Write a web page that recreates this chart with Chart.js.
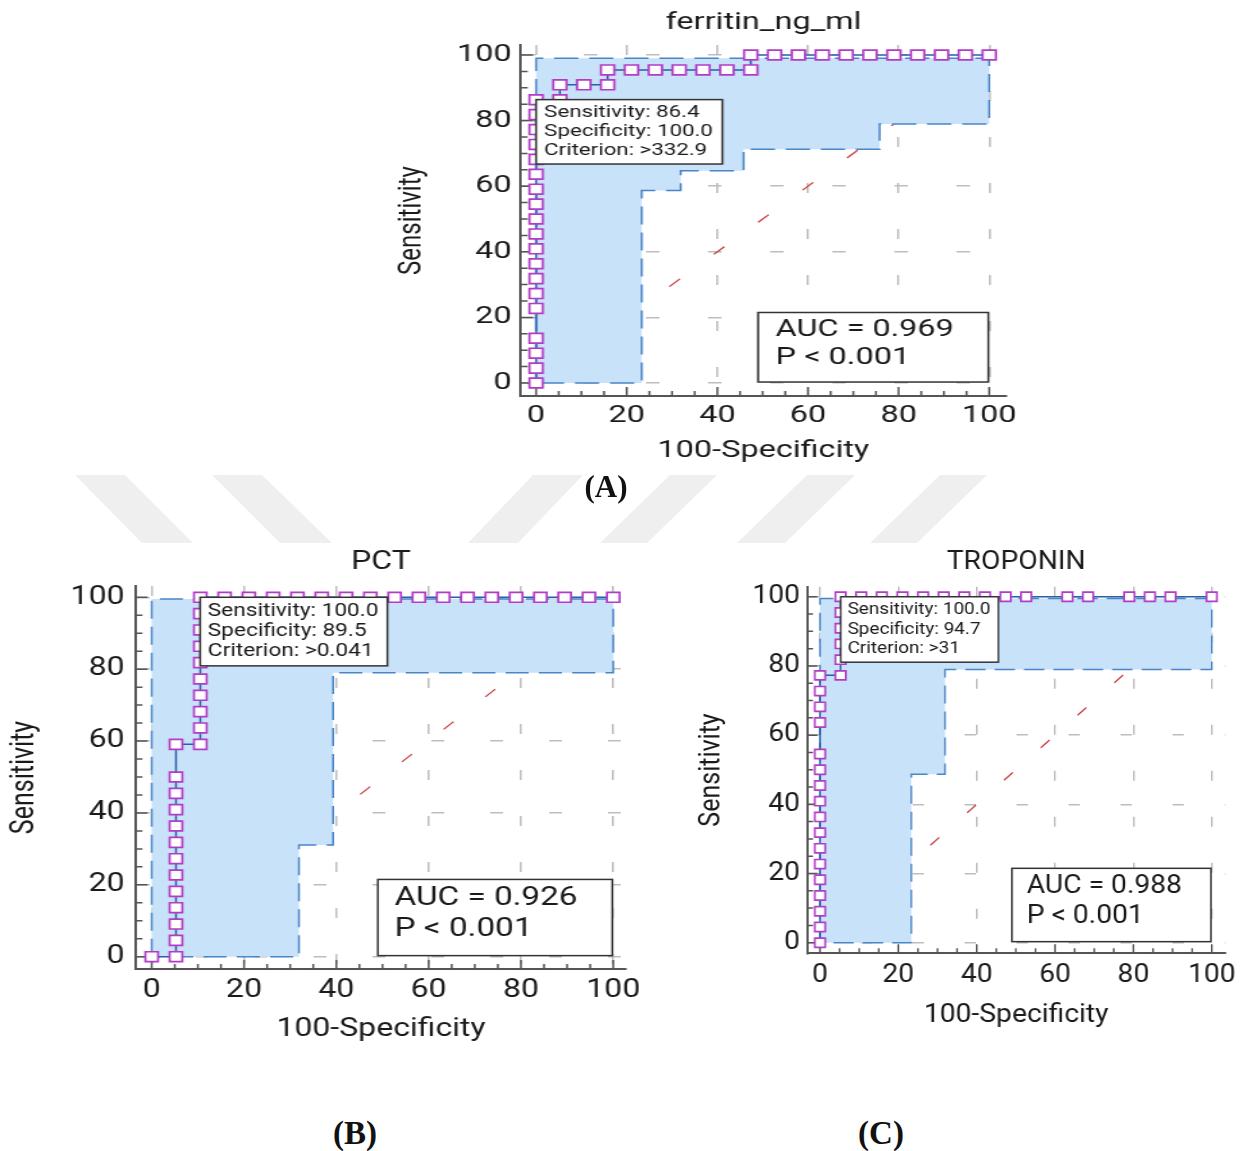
<!DOCTYPE html>
<html>
<head>
<meta charset="utf-8">
<script src="https://cdn.jsdelivr.net/npm/chart.js@4.4.0/dist/chart.umd.min.js"></script>
<style>
  body { margin: 0; background: #fff; width: 1249px; height: 1151px; position: relative; overflow: hidden; }
  .panel { position: absolute; transform-origin: 0 0; }
  .tag { position: absolute; font-family: 'Liberation Serif', 'Times New Roman', serif; font-weight: bold; color: #111; transform: translate(-50%, -50%); }
  svg.wm { position: absolute; left: 0; top: 0; }
</style>
</head>
<body>
<svg class="wm" width="1249" height="1151">
  <g fill="#efefef">
    <polygon points="75,475 125,475 193,543 142,543"/>
    <polygon points="212,475 262,475 332,543 280,543"/>
    <polygon points="533,475 583,475 518,543 468,543"/>
    <polygon points="670,475 717,475 647,543 600,543"/>
    <polygon points="807,475 855,475 785,543 737,543"/>
    <polygon points="940,475 987,475 917,543 870,543"/>
  </g>
</svg>
<div class="panel" style="left:380px;top:0px;transform:scaleX(1.35)"><canvas id="chartA" width="482" height="470"></canvas></div>
<div class="panel" style="left:0px;top:530px;transform:scaleX(1.28)"><canvas id="chartB" width="508" height="520"></canvas></div>
<div class="panel" style="left:690px;top:530px;transform:scaleX(1.13)"><canvas id="chartC" width="494" height="520"></canvas></div>
<div class="tag" style="left:606px;top:487px;font-size:31px">(A)</div>
<div class="tag" style="left:355px;top:1133px;font-size:33px">(B)</div>
<div class="tag" style="left:881px;top:1133px;font-size:33px">(C)</div>
<script>
// --- data (x = 100-Specificity, y = Sensitivity) ---
const tickValues = [0, 20, 40, 60, 80, 100]
const chanceFpr = [0, 100]
const chanceSens = [0, 100]

const panelTitles = ['ferritin_ng_ml', 'PCT', 'TROPONIN']
const cutoffSens = [86.4, 100.0, 100.0]
const cutoffSpec = [100.0, 89.5, 94.7]
const cutoffCriterion = ['>332.9', '>0.041', '>31']
const aucValues = [0.969, 0.926, 0.988]
const pValues = ['< 0.001', '< 0.001', '< 0.001']

// ferritin
const ferritinFpr = [0, 0, 0, 0, 0, 0, 0, 0, 0, 0, 0, 0, 0, 0, 0, 0, 0, 0, 0,
  5.26, 5.26, 10.53, 15.79, 15.79, 21.05, 26.32, 31.58, 36.84, 42.11, 47.37,
  47.37, 52.63, 57.89, 63.16, 68.42, 73.68, 78.95, 84.21, 89.47, 94.74, 100]
const ferritinSens = [0, 4.55, 9.09, 13.64, 22.73, 27.27, 31.82, 36.36, 40.91, 45.45,
  50, 54.55, 59.09, 63.64, 68.18, 72.73, 77.27, 81.82, 86.36,
  86.36, 90.91, 90.91, 90.91, 95.45, 95.45, 95.45, 95.45, 95.45, 95.45, 95.45,
  100, 100, 100, 100, 100, 100, 100, 100, 100, 100, 100]
const ferritinUpperFpr = [0, 0, 100, 100]
const ferritinUpperSens = [0, 99, 99, 79]
const ferritinLowerFpr = [100, 75.8, 75.8, 45.8, 45.8, 31.9, 31.9, 23.3, 23.3, 0]
const ferritinLowerSens = [79, 79, 71.3, 71.3, 64.7, 64.7, 58.7, 58.7, 0, 0]

// PCT
const pctFpr = [0, 5.26, 5.26, 5.26, 5.26, 5.26, 5.26, 5.26, 5.26, 5.26, 5.26, 5.26, 5.26,
  5.26, 10.53, 10.53, 10.53, 10.53, 10.53, 10.53, 10.53, 10.53, 10.53, 10.53,
  15.79, 21.05, 26.32, 31.58, 36.84, 42.11, 47.37, 52.63, 57.89, 63.16, 68.42,
  73.68, 78.95, 84.21, 89.47, 94.74, 100]
const pctSens = [0, 0, 4.55, 9.09, 13.64, 18.18, 22.73, 27.27, 31.82, 36.36, 40.91, 45.45, 50,
  59.09, 59.09, 63.64, 68.18, 72.73, 77.27, 81.82, 86.36, 90.91, 95.45, 100,
  100, 100, 100, 100, 100, 100, 100, 100, 100, 100, 100, 100, 100, 100, 100, 100, 100]
const pctUpperFpr = [0, 0, 100, 100]
const pctUpperSens = [0, 99.5, 99.5, 79]
const pctLowerFpr = [100, 39.3, 39.3, 31.9, 31.9, 0]
const pctLowerSens = [79, 79, 31.1, 31.1, 0, 0]

// troponin
const tropFpr = [0, 0, 0, 0, 0, 0, 0, 0, 0, 0, 0, 0, 0, 0, 0, 0, 0,
  5.26, 5.26, 5.26, 5.26, 5.26, 5.26,
  10.53, 15.79, 21.05, 26.32, 31.58, 36.84, 42.11, 47.37, 52.63, 63.16, 68.42,
  78.95, 84.21, 89.47, 100]
const tropSens = [0, 4.55, 9.09, 13.64, 18.18, 22.73, 27.27, 31.82, 36.36, 40.91, 45.45,
  50, 54.55, 63.64, 68.18, 72.73, 77.27,
  77.27, 81.82, 86.36, 90.91, 95.45, 100,
  100, 100, 100, 100, 100, 100, 100, 100, 100, 100, 100, 100, 100, 100, 100]
const tropUpperFpr = [0, 0, 100, 100]
const tropUpperSens = [0, 99.5, 99.5, 79]
const tropLowerFpr = [100, 31.9, 31.9, 23.3, 23.3, 0]
const tropLowerSens = [79, 79, 48.7, 48.7, 0, 0]

const pairs = (xs, ys) => xs.map((x, i) => ({ x, y: ys[i] }))

const curves = [
  { roc: pairs(ferritinFpr, ferritinSens), band: pairs(ferritinUpperFpr, ferritinUpperSens).concat(pairs(ferritinLowerFpr, ferritinLowerSens)) },
  { roc: pairs(pctFpr, pctSens), band: pairs(pctUpperFpr, pctUpperSens).concat(pairs(pctLowerFpr, pctLowerSens)) },
  { roc: pairs(tropFpr, tropSens), band: pairs(tropUpperFpr, tropUpperSens).concat(pairs(tropLowerFpr, tropLowerSens)) }
]

// --- layout of each panel (canvas pixels, before the horizontal stretch) ---
const layouts = [
  { canvas: 'chartA', font: 24, infoFont: 16.5, aucFont: 24, pointRadius: 7,
    xRange: [-3.34, 103.7], yRange: [-3.96, 103.05], yAxisWidth: 104.4, xAxisHeight: 74, padRight: 18.3,
    titlePad: { top: 8.4, bottom: 7.8 }, yTitlePad: 9.3, yTickPad: 7, xTickPad: 5.6, xTitlePad: 4.5 },
  { canvas: 'chartB', font: 25, infoFont: 17.7, aucFont: 26, pointRadius: 7,
    xRange: [-3.4, 102.76], yRange: [-3.42, 103.14], yAxisWidth: 106.25, xAxisHeight: 81, padRight: 18.94,
    titlePad: { top: 17.5, bottom: 8.5 }, yTitlePad: 4.5, yTickPad: 9, xTickPad: 7, xTitlePad: 5.5 },
  { canvas: 'chartC', font: 25, infoFont: 16.8, aucFont: 25, pointRadius: 6.5,
    xRange: [-3.24, 103.4], yRange: [-3.06, 102.9], yAxisWidth: 103.8, xAxisHeight: 96.7, padRight: 20.5,
    titlePad: { top: 17.5, bottom: 9.2 }, yTitlePad: 4.5, yTickPad: 6.5, xTickPad: 7.5, xTitlePad: 19.5 }
]

Chart.defaults.font.family = 'Roboto'
Chart.defaults.color = '#1a1a1a'
Chart.defaults.animation = false

const drawBox = function (ctx, x, y, w, h) {
  ctx.fillStyle = '#fff'
  ctx.fillRect(x, y, w, h)
  ctx.strokeStyle = '#333'
  ctx.lineWidth = 1.5
  ctx.strokeRect(x, y, w, h)
  ctx.fillStyle = '#1a1a1a'
}

const rocDecor = {
  id: 'rocDecor',
  beforeDatasetsDraw(chart) {
    // inward tick marks, long every 20, short every 5
    const { ctx, chartArea: area, scales: { x, y } } = chart
    ctx.save()
    ctx.strokeStyle = '#555'
    ctx.lineWidth = 1.5
    ctx.beginPath()
    for (let v = 0; v <= 100; v += 5) {
      const len = v % 20 === 0 ? 9 : 5
      const px = x.getPixelForValue(v)
      const py = y.getPixelForValue(v)
      ctx.moveTo(px, area.bottom)
      ctx.lineTo(px, area.bottom - len)
      ctx.moveTo(area.left, py)
      ctx.lineTo(area.left + len, py)
    }
    ctx.stroke()
    ctx.restore()
  },
  afterDatasetsDraw(chart, args, opts) {
    const { ctx, scales: { x, y } } = chart
    ctx.save()
    ctx.textBaseline = 'middle'
    ctx.textAlign = 'left'

    // criterion box, top-left corner on the chosen cut-off point
    ctx.font = `${opts.infoFont}px Roboto`
    const lh = opts.infoFont * 1.15
    const left = x.getPixelForValue(opts.anchor[0])
    const top = y.getPixelForValue(opts.anchor[1])
    const w = Math.max(...opts.info.map((t) => ctx.measureText(t).width)) + 13
    const h = opts.info.length * lh + 7.5
    drawBox(ctx, left, top, w, h)
    opts.info.forEach((t, i) => ctx.fillText(t, left + 6, top + 3.75 + lh * (i + 0.5)))

    // AUC box
    const [x0, x1, y0, y1] = opts.aucBox
    const bl = x.getPixelForValue(x0)
    const br = x.getPixelForValue(x1)
    const bt = y.getPixelForValue(y1)
    const bb = y.getPixelForValue(y0)
    drawBox(ctx, bl, bt, br - bl, bb - bt)
    ctx.font = `${opts.aucFont}px Roboto`
    opts.auc.forEach((t, i) => ctx.fillText(t, bl + 13, bt + (bb - bt) * (i ? 0.66 : 0.25)))
    ctx.restore()
  }
}

layouts.forEach((p, i) => {
  const fontSpec = { family: 'Roboto', size: p.font, weight: 'normal' }
  new Chart(document.getElementById(p.canvas), {
    type: 'scatter',
    data: {
      datasets: [
        {
          label: 'ROC',
          data: curves[i].roc,
          showLine: true,
          borderColor: '#2560a8',
          borderWidth: 1.5,
          pointStyle: 'rect',
          pointRadius: p.pointRadius,
          pointBorderColor: '#b23cc6',
          pointBackgroundColor: '#fff',
          pointBorderWidth: 1.7
        },
        {
          label: '95% CI',
          data: curves[i].band,
          showLine: true,
          fill: 'shape',
          backgroundColor: '#c8e2fa',
          borderColor: '#4a85c6',
          borderWidth: 1.5,
          borderDash: [18, 8],
          pointRadius: 0
        },
        {
          label: 'chance',
          data: pairs(chanceFpr, chanceSens),
          showLine: true,
          borderColor: '#c8373a',
          borderWidth: 1.2,
          borderDash: [11, 35],
          pointRadius: 0
        }
      ]
    },
    options: {
      responsive: false,
      events: [],
      layout: { padding: { left: 0, top: 0, bottom: 0, right: p.padRight } },
      scales: {
        x: {
          type: 'linear',
          min: p.xRange[0],
          max: p.xRange[1],
          afterBuildTicks: (s) => { s.ticks = tickValues.map((v) => ({ value: v })) },
          afterFit: (s) => { s.height = p.xAxisHeight },
          ticks: { padding: p.xTickPad, font: fontSpec, color: '#1a1a1a', autoSkip: false, maxRotation: 0 },
          grid: { color: '#bdbdbd', lineWidth: 1.5, drawTicks: false },
          border: { color: '#555', width: 2, dash: [10, 36] },
          title: { display: true, text: '100-Specificity', font: fontSpec, color: '#1a1a1a', padding: { top: 0, bottom: p.xTitlePad } }
        },
        y: {
          type: 'linear',
          min: p.yRange[0],
          max: p.yRange[1],
          afterBuildTicks: (s) => { s.ticks = tickValues.map((v) => ({ value: v })) },
          afterFit: (s) => { s.width = p.yAxisWidth },
          ticks: { padding: p.yTickPad, font: fontSpec, color: '#1a1a1a', autoSkip: false },
          grid: { color: '#bdbdbd', lineWidth: 1.5, drawTicks: false },
          border: { color: '#555', width: 2, dash: [10, 36] },
          title: { display: true, text: 'Sensitivity', font: fontSpec, color: '#1a1a1a', padding: { top: p.yTitlePad, bottom: 0 } }
        }
      },
      plugins: {
        legend: { display: false },
        tooltip: { enabled: false },
        title: {
          display: true,
          text: panelTitles[i],
          fullSize: false,
          color: '#1a1a1a',
          font: fontSpec,
          padding: p.titlePad
        },
        rocDecor: {
          infoFont: p.infoFont,
          aucFont: p.aucFont,
          anchor: [100 - cutoffSpec[i], cutoffSens[i]],
          info: [
            `Sensitivity: ${cutoffSens[i].toFixed(1)}`,
            `Specificity: ${cutoffSpec[i].toFixed(1)}`,
            `Criterion: ${cutoffCriterion[i]}`
          ],
          auc: [`AUC = ${aucValues[i].toFixed(3)}`, `P ${pValues[i]}`],
          aucBox: [49, 99.8, 0.3, 21.5]
        }
      }
    },
    plugins: [rocDecor]
  })
})
</script>
</body>
</html>
